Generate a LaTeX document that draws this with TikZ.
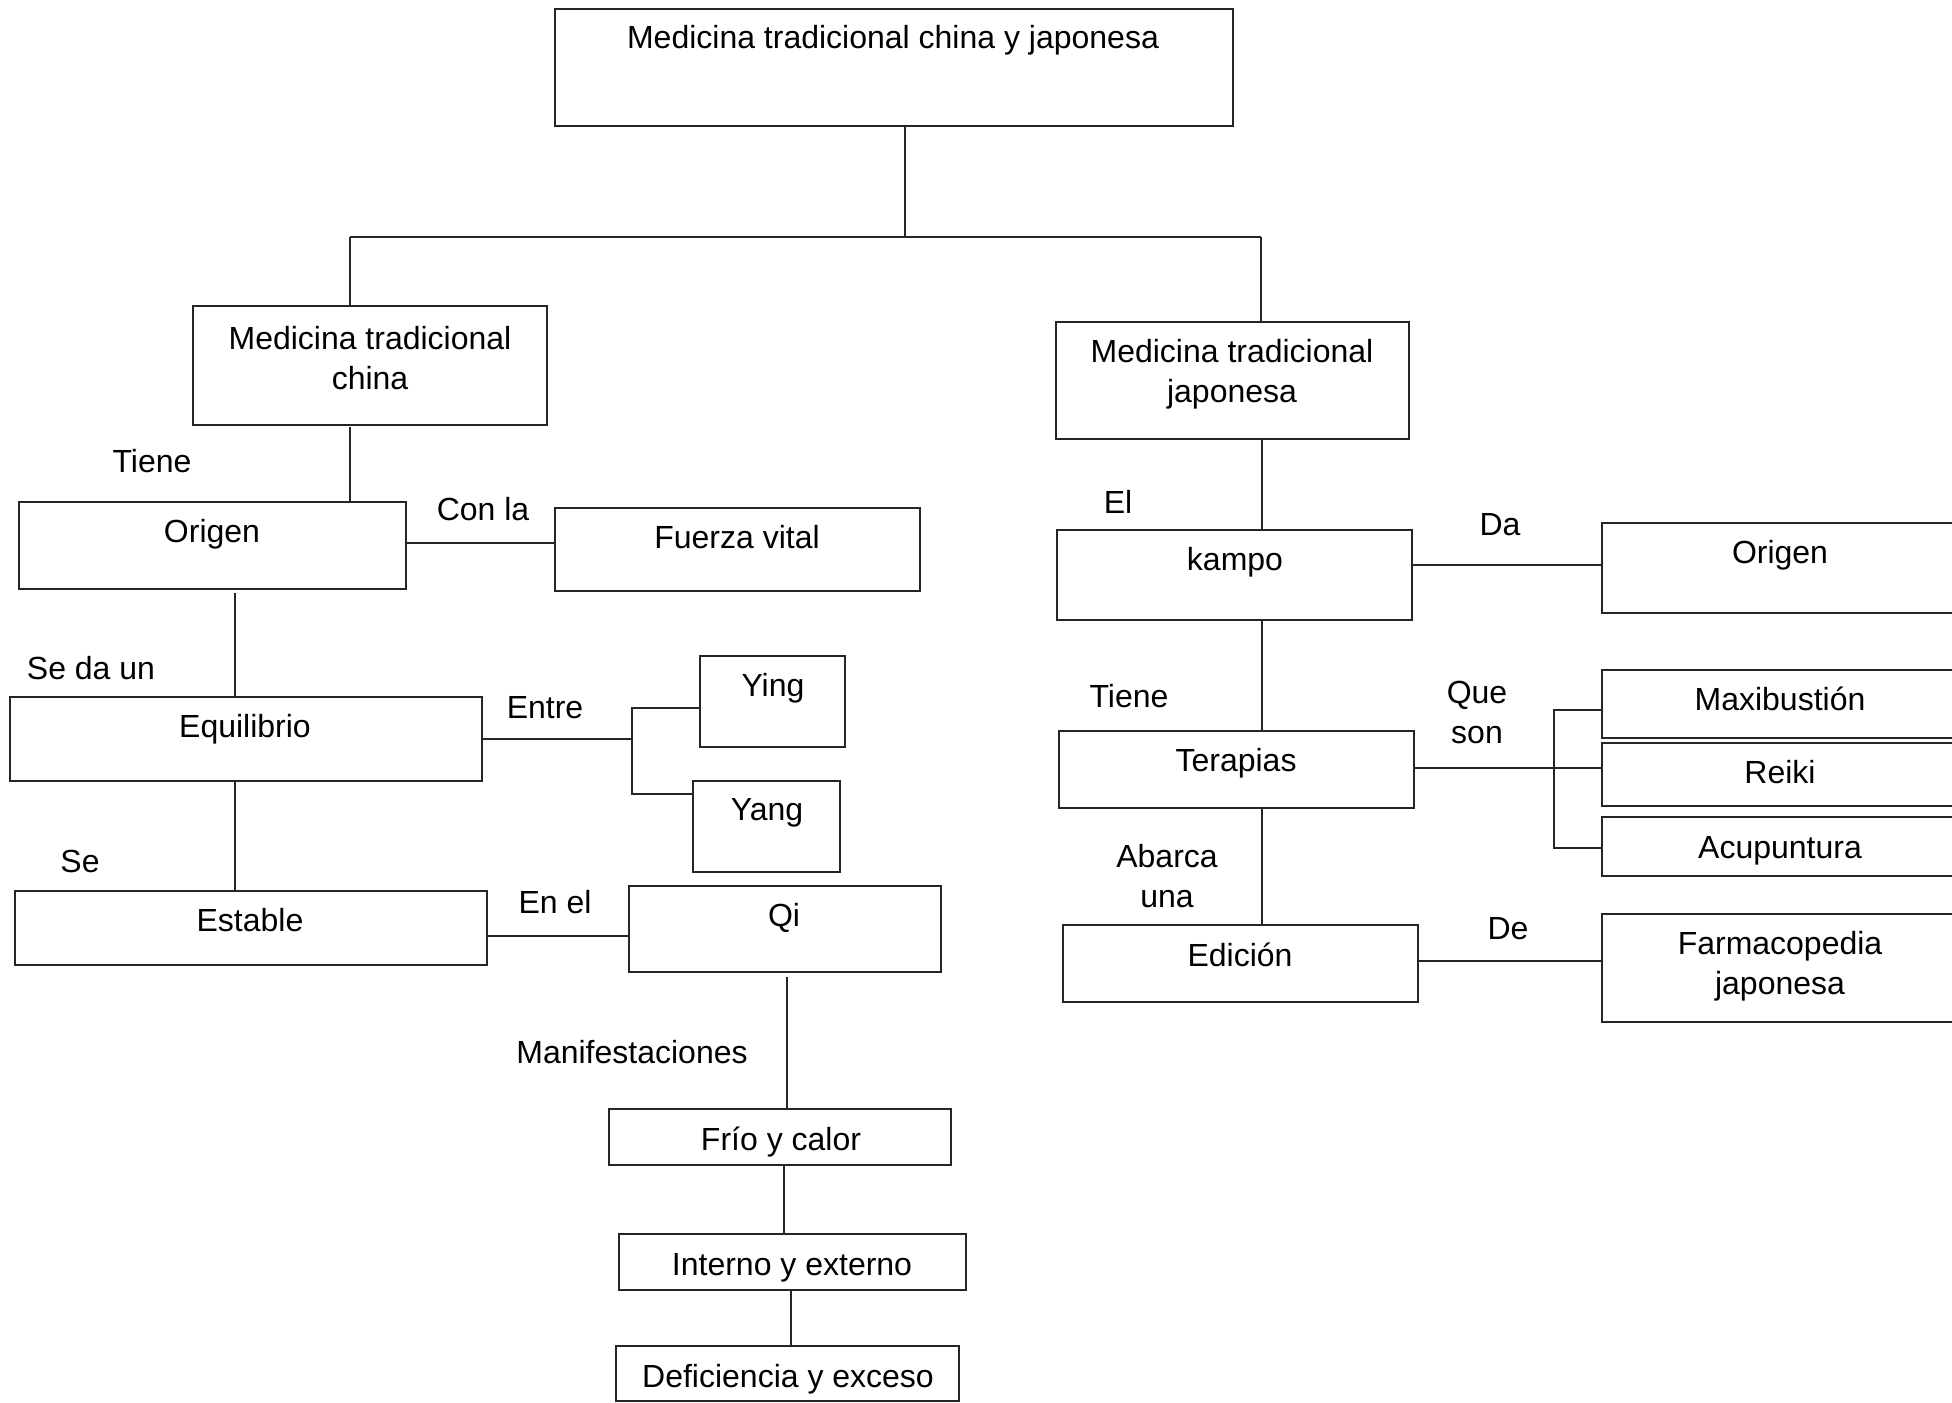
\documentclass[tikz,border=0pt]{standalone}
\usepackage{fontspec}
\setmainfont{Liberation Sans}
\usetikzlibrary{fit}
\tikzset{
  box/.style={draw=black!85, line width=0.8pt, inner sep=0pt, outer sep=0pt},
  txt/.style={inner sep=0pt, outer sep=0pt, font=\fontsize{16}{20}\selectfont, text height=10pt, text depth=0pt},
  txtm/.style={inner sep=0pt, outer sep=0pt, font=\fontsize{16}{20}\selectfont, align=center},
  con/.style={draw=black!85, line width=0.8pt}
}
\newcommand\mkbox[5]{%
  \path (#2,#3) coordinate (#1-nw) (#4,#5) coordinate (#1-se);
  \node[box, fit=(#1-nw)(#1-se)] (#1) {};}
\begin{document}
\begin{tikzpicture}[x=0.5pt, y=-0.5pt]
\useasboundingbox (0,0) rectangle (1952,1402);
% boxes
\mkbox{top}{555}{9}{1233}{126}
\mkbox{mtc}{193}{306}{547}{425}
\mkbox{mtj}{1056}{322}{1409}{439}
\mkbox{origen}{19}{502}{406}{589}
\mkbox{fuerza}{555}{508}{920}{591}
\mkbox{equil}{10}{697}{482}{781}
\mkbox{ying}{700}{656}{845}{747}
\mkbox{yang}{693}{781}{840}{872}
\mkbox{estable}{15}{891}{487}{965}
\mkbox{qi}{629}{886}{941}{972}
\mkbox{frio}{609}{1109}{951}{1165}
\mkbox{interno}{619}{1234}{966}{1290}
\mkbox{defic}{616}{1346}{959}{1401}
\mkbox{kampo}{1057}{530}{1412}{620}
\mkbox{origenb}{1602}{523}{1958}{613}
\mkbox{terap}{1059}{731}{1414}{808}
\mkbox{maxi}{1602}{670}{1958}{738}
\mkbox{reiki}{1602}{743}{1958}{806}
\mkbox{acu}{1602}{817}{1958}{876}
\mkbox{edic}{1063}{925}{1418}{1002}
\mkbox{farma}{1602}{914}{1958}{1022}
% box texts
\node[txt] (t-top) at (893,39) {Medicina tradicional china y japonesa};
\node[txtm] (t-mtc) at (370,358) {Medicina tradicional\\china};
\node[txtm] (t-mtj) at (1232,374) {Medicina tradicional\\japonesa};
\node[txt] (t-origen) at (212,532) {Origen};
\node[txt] (t-fuerza) at (737,538) {Fuerza vital};
\node[txt] (t-equil) at (245,727) {Equilibrio};
\node[txt] (t-ying) at (773,686) {Ying};
\node[txt] (t-yang) at (767,810) {Yang};
\node[txt] (t-estable) at (250,921) {Estable};
\node[txt] (t-qi) at (784,916) {Qi};
\node[txt] (t-frio) at (781,1140) {Frío y calor};
\node[txt] (t-interno) at (792,1265) {Interno y externo};
\node[txt] (t-defic) at (788,1377) {Deficiencia y exceso};
\node[txt] (t-kampo) at (1235,560) {kampo};
\node[txt] (t-origenb) at (1780,553) {Origen};
\node[txt] (t-terap) at (1236,761) {Terapias};
\node[txt] (t-maxi) at (1780,700) {Maxibustión};
\node[txt] (t-reiki) at (1780,773) {Reiki};
\node[txt] (t-acu) at (1780,848) {Acupuntura};
\node[txt] (t-edic) at (1240,956) {Edición};
\node[txtm] (t-farma) at (1780,966) {Farmacopedia\\japonesa};
% connector labels
\node[txt] (l-tiene) at (152,462) {Tiene};
\node[txt] (l-conla) at (483,510) {Con la};
\node[txt] (l-seda) at (91,669) {Se da un};
\node[txt] (l-entre) at (545,708) {Entre};
\node[txt] (l-se) at (80,862) {Se};
\node[txt] (l-enel) at (555,903) {En el};
\node[txt] (l-manif) at (632,1053) {Manifestaciones};
\node[txt] (l-el) at (1118,503) {El};
\node[txt] (l-da) at (1500,525) {Da};
\node[txt] (l-tiene2) at (1129,697) {Tiene};
\node[txtm] (l-queson) at (1477,712) {Que\\son};
\node[txtm] (l-abarca) at (1167,876) {Abarca\\una};
\node[txt] (l-de) at (1508,929) {De};
% helper coordinates
\coordinate (j) at (905,237);
\coordinate (jl) at (350,237);
\coordinate (jr) at (1261,237);
\coordinate (vL) at (235,0);
\coordinate (by1) at (632,708);
\coordinate (by2) at (632,794);
\coordinate (of) at (0,543);
\coordinate (eq) at (0,936);
\coordinate (vq) at (787,0);
\coordinate (vf) at (784,0);
\coordinate (vi) at (791,0);
\coordinate (vR) at (1262,0);
\coordinate (ko) at (0,565);
\coordinate (tr) at (0,768);
\coordinate (ef) at (0,961);
\coordinate (bm) at (1554,710);
\coordinate (ba) at (1554,848);
% connectors
\draw[con] (top.south -| j) -- (j);
\draw[con] (jl) -- (jr);
\draw[con] (jl) -- (mtc.north -| jl);
\draw[con] (jr) -- (mtj.north -| jr);
\draw[con] ([yshift=-1pt]mtc.south -| jl) -- (origen.north -| jl);
\draw[con] (origen.east |- of) -- (fuerza.west |- of);
\draw[con] ([yshift=-2pt]origen.south -| vL) -- (equil.north -| vL);
\draw[con] (equil.south -| vL) -- (estable.north -| vL);
\draw[con] (equil.east) -- (equil.east -| by1);
\draw[con] (ying.west |- by1) -- (by1) -- (by2) -- (yang.west |- by2);
\draw[con] (estable.east |- eq) -- (qi.west |- eq);
\draw[con] ([yshift=-2.5pt]qi.south -| vq) -- (frio.north -| vq);
\draw[con] (frio.south -| vf) -- (interno.north -| vf);
\draw[con] (interno.south -| vi) -- (defic.north -| vi);
\draw[con] (mtj.south -| vR) -- (kampo.north -| vR);
\draw[con] (kampo.east |- ko) -- (origenb.west |- ko);
\draw[con] (kampo.south -| vR) -- (terap.north -| vR);
\draw[con] (terap.east |- tr) -- (reiki.west |- tr);
\draw[con] (maxi.west |- bm) -- (bm) -- (ba) -- (acu.west |- ba);
\draw[con] (terap.south -| vR) -- (edic.north -| vR);
\draw[con] (edic.east |- ef) -- (farma.west |- ef);
\end{tikzpicture}
\end{document}
